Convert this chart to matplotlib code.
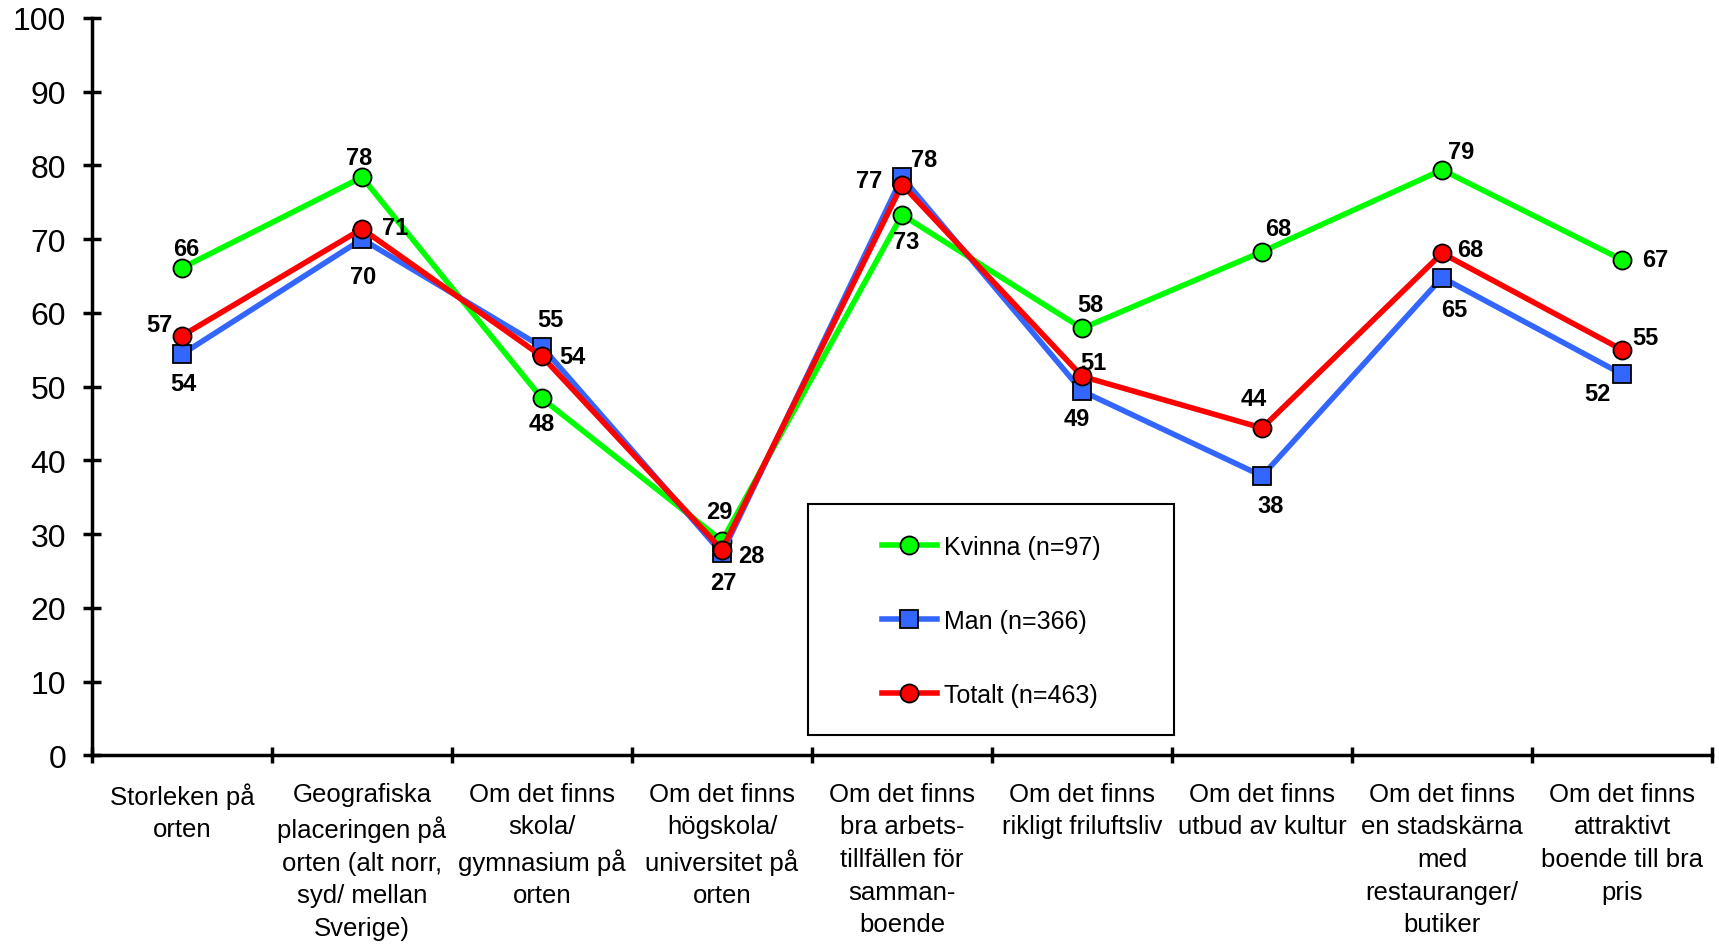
import matplotlib
matplotlib.use("Agg")
import matplotlib.pyplot as plt
from matplotlib.patches import Rectangle

plt.rcParams['font.family'] = ['Liberation Sans', 'DejaVu Sans']

# Categories and values (percent)
categories = [
    "Storleken på\norten",
    "Geografiska\nplaceringen på\norten (alt norr,\nsyd/ mellan\nSverige)",
    "Om det finns\nskola/\ngymnasium på\norten",
    "Om det finns\nhögskola/\nuniversitet på\norten",
    "Om det finns\nbra arbets-\ntillfällen för\nsamman-\nboende",
    "Om det finns\nrikligt friluftsliv",
    "Om det finns\nutbud av kultur",
    "Om det finns\nen stadskärna\nmed\nrestauranger/\nbutiker",
    "Om det finns\nattraktivt\nboende till bra\npris",
]
kvinna = [66.1, 78.4, 48.4, 29.1, 73.3, 57.9, 68.3, 79.4, 67.2]
man = [54.4, 70.0, 55.4, 27.4, 78.4, 49.4, 37.9, 64.8, 51.7]
totalt = [56.9, 71.4, 54.1, 27.9, 77.4, 51.4, 44.4, 68.1, 55.0]

# label offsets in points (dx, dy)
off_kvinna = [(3, 14), (-2, 14), (0, -18), (-2, 21), (3, -19), (6, 17), (12, 17), (14, 13), (24, 0)]
off_man = [(1, -21), (1, -27), (6, 20), (1, -21), (16, 13), (-4, -20), (6, -21), (9, -23), (-18, -14)]
off_totalt = [(-16, 8), (24, 1), (22, 0), (21, -4), (-24, 3), (8, 10), (-6, 21), (20, 3), (17, 9)]

fig = plt.figure(figsize=(17.19, 9.45), dpi=100)
ax = fig.add_axes([0.0535, 0.1995, 0.9425, 0.7805])

x = [i + 0.5 for i in range(len(categories))]

series = [
    (kvinna, "Kvinna (n=97)", "#00FF00", "o", off_kvinna),
    (man, "Man (n=366)", "#3366FF", "s", off_man),
    (totalt, "Totalt (n=463)", "#FF0000", "o", off_totalt),
]

for vals, name, col, mk, offs in series:
    ax.plot(x, vals, color=col, lw=4, marker=mk, markersize=13,
            markerfacecolor=col, markeredgecolor='black', markeredgewidth=1.3,
            label=name, zorder=3)
    for xi, v, (dx, dy) in zip(x, vals, offs):
        ax.annotate(f"{v:.0f}", (xi, v), xytext=(dx, dy), textcoords='offset points',
                    ha='center', va='center', fontsize=17, fontweight='bold', zorder=4)

ax.set_xlim(0, len(categories))
ax.set_ylim(0, 100)
ax.set_yticks(range(0, 101, 10))
ax.set_xticks(range(0, len(categories) + 1))
ax.set_xticklabels([])
ax.set_xticks(x, minor=True)
ax.set_xticklabels(categories, minor=True, fontsize=18.5, linespacing=1.45)

ax.spines['top'].set_visible(False)
ax.spines['right'].set_visible(False)
ax.spines['left'].set_linewidth(2.5)
ax.spines['bottom'].set_linewidth(2.5)
ax.tick_params(axis='y', direction='inout', length=13, width=2.5, labelsize=23, pad=12)
ax.tick_params(axis='x', which='major', direction='inout', length=11, width=2.5)
ax.tick_params(axis='x', which='minor', length=0, pad=19)

# legend box
ax.add_patch(Rectangle((0.442, 0.0278), 0.226, 0.313, transform=ax.transAxes,
                       fill=False, edgecolor='black', lw=1.5, zorder=5, clip_on=False))
leg = ax.legend(loc='center', bbox_to_anchor=(0.555, 0.182), frameon=False,
                fontsize=18, labelspacing=2.0, handlelength=2.2, handletextpad=0.3)

fig.savefig("out.png", dpi=100)
